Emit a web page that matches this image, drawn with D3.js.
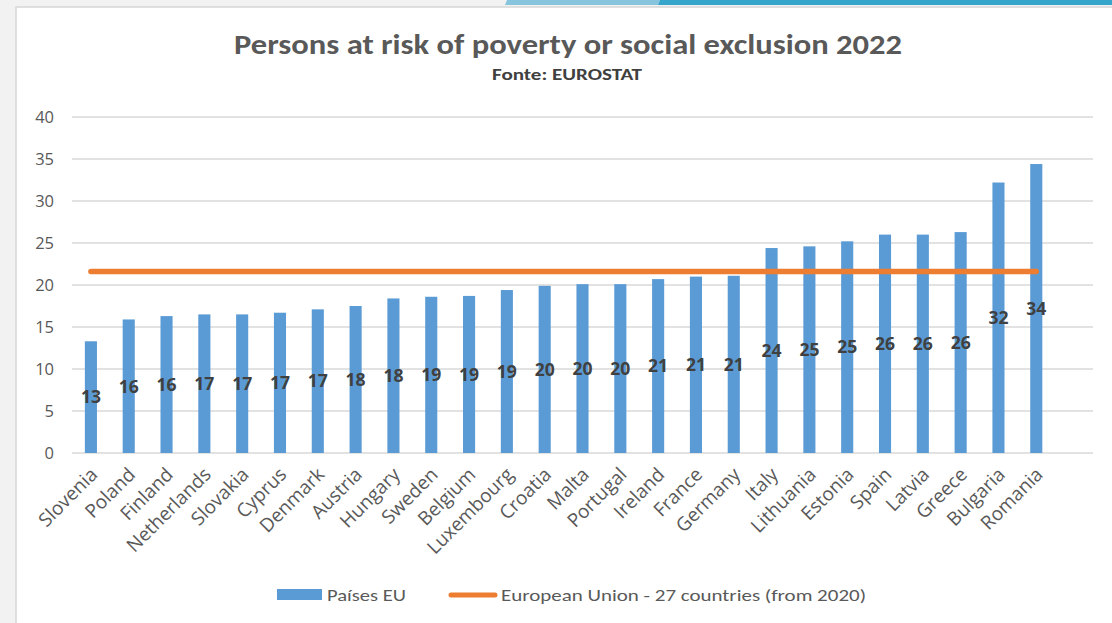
<!DOCTYPE html>
<html>
<head>
<meta charset="utf-8">
<script src="https://cdn.jsdelivr.net/npm/d3@7"></script>
<style>
  html, body { margin: 0; padding: 0; background: #f2f2f2; }
  svg { display: block; }
</style>
</head>
<body>
<svg id="chart" width="1112" height="623"></svg>
<script>
const countries = ["Slovenia","Poland","Finland","Netherlands","Slovakia","Cyprus","Denmark","Austria","Hungary","Sweden","Belgium","Luxembourg","Croatia","Malta","Portugal","Ireland","France","Germany","Italy","Lithuania","Estonia","Spain","Latvia","Greece","Bulgaria","Romania"];
const values = [13.3,15.9,16.3,16.5,16.5,16.7,17.1,17.5,18.4,18.6,18.7,19.4,19.9,20.1,20.1,20.7,21.0,21.1,24.4,24.6,25.2,26.0,26.0,26.3,32.2,34.4];
const euValue = 21.6;
const yTicks = [0,5,10,15,20,25,30,35,40];
const title = "Persons at risk of poverty or social exclusion 2022";
const subtitle = "Fonte: EUROSTAT";
const legendLabels = ["Países EU","European Union - 27 countries (from 2020)"];

const svg = d3.select("#chart");
const txtFont = "Calibri, Lato, 'Open Sans', sans-serif";
const axFont = "'Open Sans', sans-serif";

// panel background
svg.append("rect").attr("x",16).attr("y",7).attr("width",1100).attr("height",620)
  .attr("fill","#ffffff").attr("stroke","#d6d6d6").attr("stroke-width",1.5);
// top accent strip
svg.append("polygon").attr("points","507,0 660,0 658,5 505,5").attr("fill","#87c5df");
svg.append("polygon").attr("points","660,0 1112,0 1112,5 658,5").attr("fill","#35a5cb");

const plotLeft = 72, plotRight = 1093, plotTop = 117, plotBottom = 453;
const nSlots = countries.length + 1; // chart reserves one empty slot at the end
const x = d3.scaleBand().domain(countries)
  .range([plotLeft, plotLeft + (plotRight - plotLeft) * countries.length / nSlots])
  .paddingInner(0.68).paddingOuter(0.34);
const y = d3.scaleLinear().domain([0,40]).range([plotBottom, plotTop]);

// gridlines
svg.append("g").selectAll("line").data(yTicks).join("line")
  .attr("x1", plotLeft).attr("x2", plotRight)
  .attr("y1", d => y(d)).attr("y2", d => y(d))
  .attr("stroke","#d9d9d9").attr("stroke-width",1.5);

// y axis labels
const yAxis = d3.axisLeft(y).tickValues(yTicks).tickSize(0).tickPadding(0);
const gy = svg.append("g").attr("transform","translate(54,0)").call(yAxis);
gy.select(".domain").remove();
gy.selectAll("text").attr("font-family", axFont).attr("font-size", 16.5)
  .attr("fill","#595959");

// bars
svg.append("g").selectAll("rect").data(countries).join("rect")
  .attr("x", d => x(d)).attr("width", x.bandwidth())
  .attr("y", (d,i) => y(values[i])).attr("height", (d,i) => y(0) - y(values[i]))
  .attr("fill","#5b9bd5");

// EU line
const lineGen = d3.line().x(d => x(d) + x.bandwidth()/2).y(() => y(euValue));
svg.append("path").datum(countries).attr("d", lineGen)
  .attr("fill","none").attr("stroke","#ed7d31").attr("stroke-width",5.5)
  .attr("stroke-linecap","round");

// data labels
svg.append("g").selectAll("text").data(countries).join("text")
  .attr("x", d => x(d) + x.bandwidth()/2)
  .attr("y", (d,i) => (y(values[i]) + y(0)) / 2)
  .attr("dy","0.36em").attr("text-anchor","middle")
  .attr("font-family","'Open Sans', sans-serif").attr("font-weight","bold")
  .attr("font-size",17.5).attr("fill","#404040")
  .text((d,i) => Math.round(values[i]));

// x axis labels
const xAxis = d3.axisBottom(x).tickSize(0).tickPadding(0);
const gx = svg.append("g").attr("transform",`translate(0,${plotBottom})`).call(xAxis);
gx.select(".domain").remove();
gx.selectAll("text")
  .attr("font-family", axFont).attr("font-size",19).attr("fill","#595959")
  .attr("text-anchor","end").attr("dy","0.35em")
  .attr("transform","translate(3,18) rotate(-45)")
  .attr("x",0).attr("y",0);

// title
svg.append("text").attr("x",568).attr("y",54).attr("text-anchor","middle")
  .attr("font-family",txtFont).attr("font-weight","bold").attr("font-size",28)
  .attr("fill","#595959").attr("textLength",668).attr("lengthAdjust","spacingAndGlyphs")
  .text(title);
svg.append("text").attr("x",567).attr("y",80).attr("text-anchor","middle")
  .attr("font-family",txtFont).attr("font-weight","bold").attr("font-size",16)
  .attr("fill","#404040").attr("textLength",150).attr("lengthAdjust","spacingAndGlyphs")
  .text(subtitle);

// legend
const lg = svg.append("g");
lg.append("rect").attr("x",277).attr("y",589).attr("width",45).attr("height",11).attr("fill","#5b9bd5");
lg.append("text").attr("x",327).attr("y",601).attr("font-family",txtFont).attr("font-size",17)
  .attr("fill","#595959").attr("textLength",79).attr("lengthAdjust","spacingAndGlyphs")
  .text(legendLabels[0]);
lg.append("line").attr("x1",451).attr("x2",495).attr("y1",595).attr("y2",595)
  .attr("stroke","#ed7d31").attr("stroke-width",5).attr("stroke-linecap","round");
lg.append("text").attr("x",501).attr("y",601).attr("font-family",txtFont).attr("font-size",17)
  .attr("fill","#595959").attr("textLength",365).attr("lengthAdjust","spacingAndGlyphs")
  .text(legendLabels[1]);
</script>
</body>
</html>
